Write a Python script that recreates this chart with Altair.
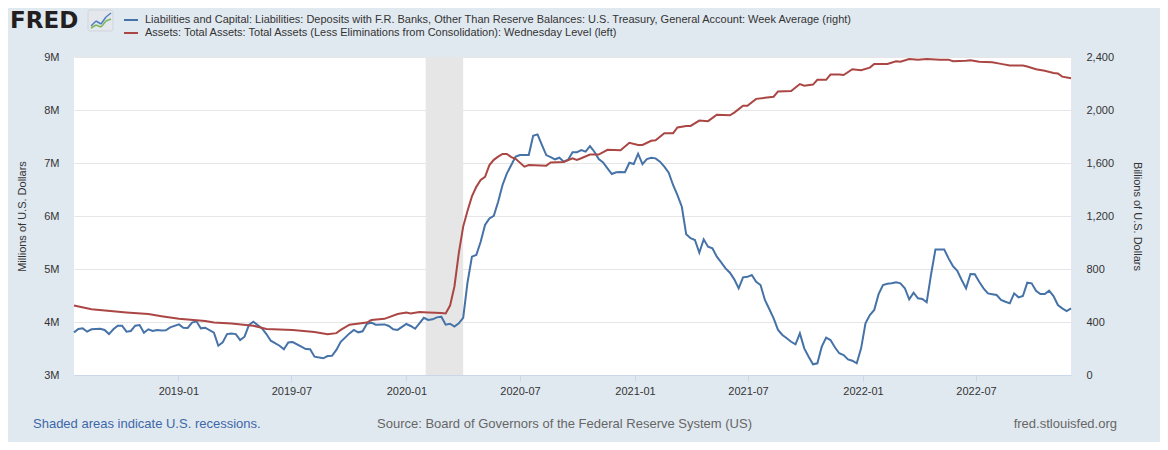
import altair as alt
import pandas as pd

# ---------------- data ----------------
START_DATE = "2018-07-18"   # first weekly observation (Wednesday)
END_DATE = "2022-11-30"

BLUE_NAME = ("Liabilities and Capital: Liabilities: Deposits with F.R. Banks, Other Than Reserve "
             "Balances: U.S. Treasury, General Account: Week Average (right)")
RED_NAME = ("Assets: Total Assets: Total Assets (Less Eliminations from Consolidation): "
            "Wednesday Level (left)")

# week number since START_DATE, TGA value in billions of dollars (right axis)
blue_weeks = [0, 1, 2, 3, 4, 6, 7, 8, 9, 10, 11, 12, 13, 14, 15, 16, 17, 18, 19, 20, 21, 22, 24, 25, 26,
              27, 28, 29, 30, 32, 33, 34, 35, 36, 37, 38, 39, 40, 41, 43, 44, 45, 47, 48, 49, 50, 52, 53,
              54, 55, 57, 58, 59, 60, 61, 63, 64, 65, 66, 67, 68, 69, 71, 72, 73, 74, 76, 77, 78, 80, 81,
              82, 83, 84, 85, 86, 87, 88, 89, 90, 91, 92, 93, 94, 95, 96, 97, 98, 99, 100, 101, 102, 103,
              104, 105, 106, 107, 108, 109, 110, 111, 112, 113, 114, 115, 116, 117, 118, 119, 120, 121,
              122, 123, 124, 125, 126, 127, 128, 129, 130, 131, 132, 133, 134, 135, 136, 137, 138, 139,
              140, 141, 142, 143, 144, 145, 146, 147, 148, 149, 150, 151, 152, 153, 154, 155, 156, 157,
              158, 159, 160, 161, 162, 163, 164, 165, 166, 167, 168, 169, 170, 171, 172, 173, 174, 175,
              176, 177, 178, 179, 180, 181, 182, 183, 184, 185, 186, 187, 188, 189, 190, 191, 192, 193,
              194, 195, 196, 197, 198, 199, 200, 201, 202, 203, 204, 205, 206, 207, 208, 209, 210, 211,
              212, 213, 214, 215, 216, 217, 218, 219, 220, 221, 222, 223, 224, 225, 226, 227, 228]
blue_values = [322, 347, 352, 327, 345, 349, 340, 309, 345, 372, 372, 327, 332, 372, 377, 319, 345, 332,
               340, 335, 338, 360, 382, 357, 355, 395, 405, 352, 357, 319, 221, 246, 309, 314, 309, 264,
               289, 377, 402, 352, 309, 259, 221, 194, 245, 249, 214, 196, 194, 138, 126, 143, 145, 189,
               251, 314, 340, 322, 330, 387, 395, 380, 382, 370, 345, 340, 385, 370, 349, 432, 415, 420,
               435, 440, 380, 387, 365, 390, 432, 700, 893, 906, 1006, 1132, 1182, 1202, 1308, 1434,
               1522, 1585, 1648, 1660, 1660, 1660, 1806, 1816, 1736, 1660, 1645, 1628, 1640, 1610, 1625,
               1681, 1681, 1698, 1686, 1728, 1685, 1630, 1605, 1560, 1517, 1530, 1532, 1530, 1602, 1592,
               1670, 1592, 1630, 1640, 1635, 1610, 1572, 1527, 1434, 1358, 1270, 1062, 1032, 1019, 923,
               1024, 968, 956, 893, 850, 805, 772, 722, 654, 737, 741, 755, 704, 679, 566, 498, 428, 340,
               302, 277, 251, 232, 314, 201, 138, 81, 88, 214, 282, 264, 209, 164, 151, 118, 108, 88, 201,
               390, 453, 491, 610, 679, 688, 692, 699, 692, 655, 571, 621, 579, 574, 549, 760, 948, 948,
               948, 880, 822, 787, 717, 654, 762, 760, 704, 654, 616, 610, 604, 566, 553, 541, 616, 586,
               596, 697, 692, 636, 611, 611, 636, 596, 528, 503, 483, 503]

# week number since START_DATE, total assets in millions of millions (left axis, "M")
red_weeks = [0, 4, 12, 17, 20, 24, 30, 32, 36, 41, 44, 50, 55, 58, 60, 61, 63, 67, 68, 71, 74, 76, 77, 79,
             81, 84, 85, 86, 87, 88, 89, 90, 91, 92, 93, 94, 95, 96, 97, 98, 99, 100, 101, 103, 104, 108,
             109, 112, 114, 115, 116, 118, 120, 122, 125, 127, 129, 130, 132, 133, 135, 137, 138, 140,
             141, 143, 145, 147, 150, 151, 153, 154, 156, 158, 160, 161, 164, 166, 167, 169, 170, 172,
             173, 175, 176, 178, 180, 182, 183, 186, 188, 189, 191, 193, 195, 198, 200, 201, 204, 205,
             207, 210, 212, 214, 217, 218, 220, 222, 224, 225, 226, 228]
red_values = [4.31, 4.24, 4.18, 4.15, 4.11, 4.06, 4.02, 3.99, 3.97, 3.93, 3.87, 3.85, 3.81, 3.77, 3.79,
              3.85, 3.95, 3.99, 4.04, 4.06, 4.15, 4.18, 4.16, 4.19, 4.18, 4.17, 4.16, 4.31, 4.67, 5.30,
              5.80, 6.10, 6.37, 6.55, 6.68, 6.74, 6.96, 7.06, 7.12, 7.17, 7.17, 7.11, 7.08, 6.93, 6.96,
              6.95, 7.01, 7.02, 7.09, 7.06, 7.09, 7.16, 7.16, 7.25, 7.24, 7.38, 7.34, 7.34, 7.42, 7.43,
              7.56, 7.56, 7.67, 7.70, 7.70, 7.80, 7.79, 7.91, 7.90, 7.95, 8.08, 8.08, 8.21, 8.23, 8.25,
              8.35, 8.36, 8.49, 8.46, 8.48, 8.57, 8.57, 8.67, 8.67, 8.66, 8.77, 8.75, 8.80, 8.87, 8.87,
              8.92, 8.91, 8.96, 8.95, 8.96, 8.95, 8.95, 8.92, 8.93, 8.94, 8.91, 8.90, 8.87, 8.84, 8.84,
              8.82, 8.77, 8.74, 8.70, 8.69, 8.63, 8.60]

recession_start = ["2020-02-01"]
recession_end = ["2020-04-01"]

x_tick_dates = ["2019-01-01", "2019-07-01", "2020-01-01", "2020-07-01",
                "2021-01-01", "2021-07-01", "2022-01-01", "2022-07-01"]
left_ticks = [3e6, 4e6, 5e6, 6e6, 7e6, 8e6, 9e6]
right_ticks = [0, 400, 800, 1200, 1600, 2000, 2400]

SERIES_COLORS = ["#4572a7", "#aa4643"]
FONT = "Liberation Sans"

# ---------------- tables ----------------
start = pd.Timestamp(START_DATE)
blue_df = pd.DataFrame({
    "date": start + pd.to_timedelta([7 * w for w in blue_weeks], unit="D"),
    "value": blue_values,
    "series": BLUE_NAME,
})
red_df = pd.DataFrame({
    "date": start + pd.to_timedelta([7 * w for w in red_weeks], unit="D"),
    "value": [v * 1e6 for v in red_values],
    "series": RED_NAME,
})
rec_df = pd.DataFrame({"start": pd.to_datetime(recession_start), "end": pd.to_datetime(recession_end)})


def dt(s):
    t = pd.Timestamp(s)
    return alt.DateTime(year=t.year, month=t.month, date=t.day)


x_scale = alt.Scale(domain=[dt(START_DATE), dt(END_DATE)])
x_axis = alt.Axis(values=[dt(s) for s in x_tick_dates], format="%Y-%m", grid=False,
                  domainColor="#ccd6eb", tickColor="#ccd6eb", tickSize=6, labelPadding=4,
                  labelColor="#333333", labelFontSize=11)

color_scale = alt.Scale(domain=[BLUE_NAME, RED_NAME], range=SERIES_COLORS)
legend = alt.Legend(orient="none", legendX=49, legendY=-45, direction="vertical",
                    symbolType="stroke", symbolSize=196, symbolStrokeWidth=2,
                    labelFontSize=11, labelColor="#333333", labelFont=FONT, labelLimit=1200,
                    labelOffset=6, rowPadding=0, padding=0)

rec = alt.Chart(rec_df).mark_rect(color="#e6e6e6").encode(
    x=alt.X("start:T", scale=x_scale, axis=x_axis, title=None),
    x2="end:T",
)

blue = alt.Chart(blue_df).mark_line(strokeWidth=2).encode(
    x=alt.X("date:T", scale=x_scale, axis=x_axis, title=None),
    y=alt.Y("value:Q", scale=alt.Scale(domain=[0, 2400], nice=False, zero=False),
            axis=alt.Axis(orient="right", values=right_ticks,
                          labelExpr="format(datum.value, ',')", grid=False,
                          domain=False, ticks=False, labelPadding=15, titlePadding=18,
                          title="Billions of U.S. Dollars")),
    color=alt.Color("series:N", scale=color_scale, legend=legend, title=None),
)

red = alt.Chart(red_df).mark_line(strokeWidth=2).encode(
    x=alt.X("date:T", scale=x_scale, axis=x_axis, title=None),
    y=alt.Y("value:Q", scale=alt.Scale(domain=[3e6, 9e6], nice=False, zero=False),
            axis=alt.Axis(orient="left", values=left_ticks,
                          labelExpr="format(datum.value / 1000000, 'd') + 'M'", grid=True,
                          gridColor="#e6e6e6", domain=False, ticks=False, labelPadding=15,
                          titlePadding=16, title="Millions of U.S. Dollars")),
    color=alt.Color("series:N", scale=color_scale, legend=legend, title=None),
)

# ---------------- decorations (logo and footer) ----------------
one = pd.DataFrame({"k": [0]})

logo_icon = alt.Chart(one).mark_rect(fill="#e4e7eb", stroke="#cfd5dc", strokeWidth=1,
                                     cornerRadius=2).encode(
    x=alt.value(14), x2=alt.value(39), y=alt.value(-47), y2=alt.value(-26))


def seg(x1, y1, x2, y2, color):
    return alt.Chart(one).mark_rule(color=color, strokeWidth=1.5).encode(
        x=alt.value(x1), x2=alt.value(x2), y=alt.value(y1), y2=alt.value(y2))


icon_lines = [
    seg(17, -31, 22, -36, "#4d7fc0"), seg(22, -36, 27, -33, "#4d7fc0"),
    seg(27, -33, 32, -40, "#4d7fc0"), seg(32, -40, 37, -44, "#4d7fc0"),
    seg(17, -29, 22, -32, "#7cb55a"), seg(22, -32, 27, -30, "#7cb55a"),
    seg(27, -30, 32, -36, "#7cb55a"), seg(32, -36, 37, -38, "#7cb55a"),
]

logo = alt.Chart(pd.DataFrame({"t": ["FRED"]})).mark_text(
    align="left", baseline="middle", font="DejaVu Sans", fontSize=23, fontWeight="bold",
    color="#231f20"
).encode(text="t:N", x=alt.value(-64), y=alt.value(-36))

foot_left = alt.Chart(pd.DataFrame({"t": ["Shaded areas indicate U.S. recessions."]})).mark_text(
    align="left", baseline="middle", font=FONT, fontSize=13, color="#3d67a8"
).encode(text="t:N", x=alt.value(-41), y=alt.value(367))
foot_mid = alt.Chart(pd.DataFrame({"t": ["Source: Board of Governors of the Federal Reserve System (US)"]})).mark_text(
    align="left", baseline="middle", font=FONT, fontSize=13, color="#666666"
).encode(text="t:N", x=alt.value(303), y=alt.value(367))
foot_right = alt.Chart(pd.DataFrame({"t": ["fred.stlouisfed.org"]})).mark_text(
    align="right", baseline="middle", font=FONT, fontSize=13, color="#666666"
).encode(text="t:N", x=alt.value(1043), y=alt.value(367))

chart = alt.layer(
    rec, blue, red, logo_icon, *icon_lines, logo, foot_left, foot_mid, foot_right
).resolve_scale(
    y="independent"
).properties(
    width=997, height=318,
    autosize=alt.AutoSizeParams(type="none"),
    padding={"left": 66, "top": 49, "right": 89, "bottom": 67},
    background="#e1e9f0",
).configure_view(
    fill="white", strokeWidth=0
).configure_axis(
    labelFont=FONT, titleFont=FONT, labelFontSize=11, titleFontSize=11,
    titleFontWeight="normal", titleColor="#333333", labelColor="#333333"
)

chart.save("out.html", embed_options={"renderer": "svg", "actions": False})
